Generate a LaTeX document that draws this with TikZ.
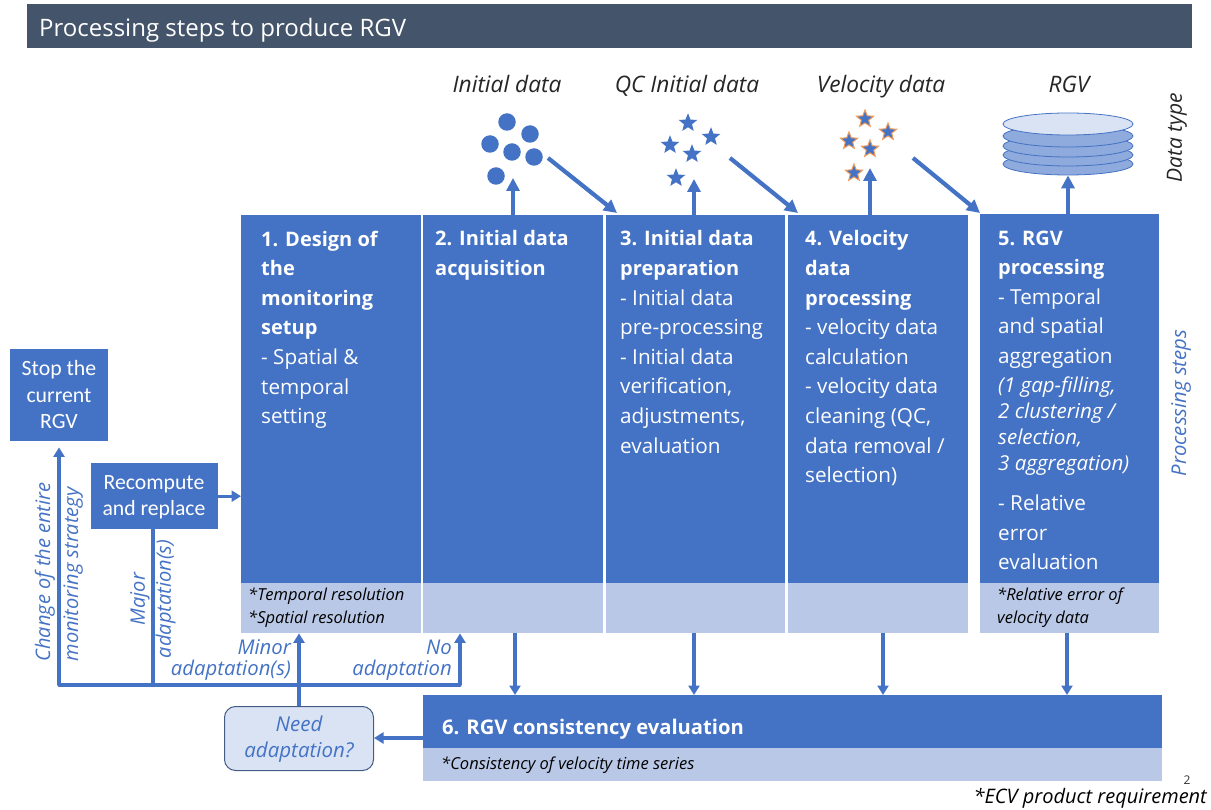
\documentclass[tikz,border=0pt]{standalone}
\usepackage{fontspec}
\setmainfont{Open Sans}
\newfontfamily\calfont{Carlito}
\usetikzlibrary{shapes.geometric,arrows.meta}
\definecolor{bl}{HTML}{4472C4}
\definecolor{lt}{HTML}{B9C8E6}
\definecolor{hd}{HTML}{44546A}
\definecolor{pale}{HTML}{DAE3F3}
\definecolor{disc}{HTML}{8FAADC}
\definecolor{org}{HTML}{ED9C5C}
\newcommand{\bb}[1]{{\fontsize{20}{29.6}\selectfont\bfseries #1}}
\tikzset{
 x=1pt,y=-1pt,
 stepbox/.style={fill=bl,draw=none,anchor=north west,inner sep=0pt},
 lightbox/.style={fill=lt,draw=none,anchor=north west,inner sep=0pt},
 body/.style={text=white,anchor=north west,inner sep=0pt,align=left,font=\fontsize{20.7}{29.6}\selectfont},
 ital/.style={text=white,anchor=north west,inner sep=0pt,align=left,font=\fontsize{20.5}{25.8}\selectfont\itshape},
 req/.style={text=black,anchor=north west,inner sep=0pt,align=left,font=\fontsize{16.5}{22.5}\selectfont\itshape},
 dtype/.style={text=black!85,inner sep=0pt,anchor=base,font=\fontsize{22.7}{26}\selectfont\itshape},
 blab/.style={text=bl,inner sep=0pt,font=\fontsize{20.3}{21.5}\selectfont\itshape},
 ball/.style={circle,fill=bl,minimum size=17.5pt,inner sep=0pt},
 st/.style={star,star points=5,star point ratio=2.3,fill=bl,minimum size=19.5pt,inner sep=0pt},
 vst/.style={st,draw=org,line width=1pt,minimum size=18pt},
 dsk/.style={ellipse,draw=bl,line width=.8pt,fill=disc,minimum width=130pt,minimum height=22pt,inner sep=0pt},
 fat/.style={draw=bl,line width=4.2pt,-{Triangle[length=13pt,width=13pt]}},
 thinarrow/.style={draw=bl,line width=3.2pt,-{Triangle[length=9.5pt,width=11pt]}},
 plain/.style={draw=bl,line width=3.2pt,line cap=round},
}
\begin{document}
\begin{tikzpicture}
\useasboundingbox (0,0) rectangle (1211,810);
\fill[white] (0,0) rectangle (1211,810);
% header
\node[fill=hd,anchor=north west,minimum width=1165pt,minimum height=44pt,inner sep=0pt] (head) at (27,4) {};
\node[anchor=west,inner sep=0pt,text=white,font=\fontsize{24}{28}\selectfont] (headt) at (39,30) {Processing steps to produce RGV};
% data type labels
\node[dtype] (d1) at (507,93) {Initial data};
\node[dtype] (d2) at (687,93) {QC Initial data};
\node[dtype] (d3) at (881,93) {Velocity data};
\node[dtype] (d4) at (1069,93) {RGV};
\node[dtype,rotate=90,anchor=center,font=\fontsize{21}{24}\selectfont\itshape] (dt) at (1177,138) {Data type};
\node[blab,rotate=90] (ps) at (1181,403) {Processing steps};
% boxes
\foreach \n/\xx/\w in {b1/241/180,b2/423/180,b3/606/179,b4/788/180}{
 \node[stepbox,minimum width=\w pt,minimum height=368pt] (\n) at (\xx,215) {};
 \node[lightbox,minimum width=\w pt,minimum height=50pt] (l\n) at (\xx,583) {};
}
\node[stepbox,minimum width=179pt,minimum height=369pt] (b5) at (980,214) {};
\node[lightbox,minimum width=179pt,minimum height=50pt] (lb5) at (980,583) {};
\node[stepbox,minimum width=739pt,minimum height=53pt] (b6) at (423,695) {};
\node[lightbox,minimum width=739pt,minimum height=33pt] (lb6) at (423,748) {};
\node[stepbox,minimum width=98pt,minimum height=92pt] (stop) at (10,349) {};
\node[stepbox,minimum width=127pt,minimum height=66pt] (rec) at (91,463) {};
\node[draw=hd!70!bl,line width=1pt,fill=pale,rounded corners=11pt,anchor=north west,minimum width=149pt,minimum height=64pt,inner sep=0pt] (need) at (224,706) {};
% texts
\node[body] (t1) at (261,230.5) {\bb{1. Design of}\\\bb{the}\\\bb{monitoring}\\\bb{setup}\\- Spatial \&\\temporal\\setting};
\node[body] (t2) at (435,230.5) {\bb{2. Initial data}\\\bb{acquisition}};
\node[body] (t3) at (620,230.5) {\bb{3. Initial data}\\\bb{preparation}\\- Initial data\\pre-processing\\- Initial data\\verification,\\adjustments,\\evaluation};
\node[body] (t4) at (805,230.5) {\bb{4. Velocity}\\\bb{data}\\\bb{processing}\\- velocity data\\calculation\\- velocity data\\cleaning (QC,\\data removal /\\selection)};
\node[body] (t5) at (998,230.5) {\bb{5. RGV}\\\bb{processing}\\- Temporal\\and spatial\\aggregation};
\node[ital] (t5b) at (998,377) {(1 gap-filling,\\2 clustering /\\selection,\\3 aggregation)};
\node[body] (t5c) at (998,494.5) {- Relative\\error\\evaluation};
\node[body,font=\fontsize{20.2}{24}\selectfont\bfseries,anchor=west] (t6) at (442,729) {6. RGV consistency evaluation};
\node[req] (r1) at (248,588) {*Temporal resolution\\*Spatial resolution};
\node[req] (r5) at (997,588) {*Relative error of\\velocity data};
\node[req,anchor=west] (r6) at (441,765) {*Consistency of velocity time series};
\node[text=white,inner sep=0pt,align=center,font=\calfont\fontsize{21.8}{26.5}\selectfont] (stopt) at (59,395) {Stop the\\current\\RGV};
\node[text=white,inner sep=0pt,align=center,font=\calfont\fontsize{21.7}{26}\selectfont] (rect) at (154,497) {Recompute\\and replace};
\node[blab,align=center,font=\fontsize{20.5}{26.5}\selectfont\itshape] (needt) at (299,739) {Need\\adaptation?};
\node[blab,rotate=90,align=left,font=\fontsize{20}{28}\selectfont\itshape] (ch) at (59,572) {Change of the entire\\monitoring strategy};
\node[blab,rotate=90,align=center,font=\fontsize{20}{26}\selectfont\itshape] (maj) at (153,599) {Major\\adaptation(s)};
\node[blab,align=right,anchor=east] (mn) at (291,660) {Minor\\adaptation(s)};
\node[blab,align=right,anchor=east] (no) at (452,660) {No\\adaptation};
\node[inner sep=0pt,font=\fontsize{12}{14}\selectfont,text=black!80] (pg) at (1187,780) {2};
\node[inner sep=0pt,anchor=east,font=\fontsize{20}{22}\selectfont\itshape,text=black] (ecv) at (1207,798) {*ECV product requirement};
% data glyphs
\node[ball] (c1) at (507,122) {};
\node[ball] (c2) at (530,134) {};
\node[ball] (c3) at (490,144) {};
\node[ball] (c4) at (512,152) {};
\node[ball] (c5) at (534,157) {};
\node[ball] (c6) at (496,176) {};
\node[st] (s1) at (688,123) {};
\node[st] (s2) at (711,137) {};
\node[st] (s3) at (670,145) {};
\node[st] (s4) at (692,154) {};
\node[st] (s5) at (676,178) {};
\node[vst] (v1) at (865,119) {};
\node[vst] (v2) at (888,132) {};
\node[vst] (v3) at (849,141) {};
\node[vst] (v4) at (870,149) {};
\node[vst] (v5) at (854,173) {};
\node[dsk] (e1) at (1068,164) {};
\node[dsk] (e2) at (1068,155) {};
\node[dsk] (e3) at (1068,146) {};
\node[dsk] (e4) at (1068,136) {};
\node[dsk,fill=pale] (e5) at (1068,124) {};
% connectors
\coordinate (u1) at (513,178);
\coordinate (u2) at (694,179);
\coordinate (u3) at (870,168);
\coordinate (f1) at (548,158);
\coordinate (g1) at (617,213);
\coordinate (f2) at (730,158);
\coordinate (g2) at (798,213);
\coordinate (f3) at (913,158);
\coordinate (g3) at (980,213);
\draw[fat] (b2.north -| u1) -- (u1);
\draw[fat] (b3.north -| u2) -- (u2);
\draw[fat] (b4.north -| u3) -- (u3);
\draw[fat] (b5.north -| e1) -- (e1.south);
\draw[fat] (f1) -- (g1);
\draw[fat] (f2) -- (g2);
\draw[fat] (f3) -- (g3);
\coordinate (x2) at (515,633);
\coordinate (x3) at (694,633);
\coordinate (x4) at (883,633);
\coordinate (x5) at (1067,633);
\draw[thinarrow] (x2) -- (x2 |- b6.north);
\draw[thinarrow] (x3) -- (x3 |- b6.north);
\draw[thinarrow] (x4) -- (x4 |- b6.north);
\draw[thinarrow] (x5) -- (x5 |- b6.north);
\coordinate (cA) at (59,685);
\coordinate (cB) at (153,685);
\coordinate (cC) at (299,685);
\coordinate (cD) at (460,685);
\coordinate (stopin) at ([yshift=-6pt]stop.south -| cA);
\draw[plain] (cA) -- (cD);
\draw[thinarrow] (cA) -- (stopin);
\draw[thinarrow] (cD) -- (cD |- lb2.south);
\draw[plain] (rec.south -| cB) -- (cB);
\draw[thinarrow] (need.north -| cC) -- (cC |- lb1.south);
\coordinate (r) at (rec.east);
\draw[thinarrow] (rec.east) -- (r -| b1.west);
\coordinate (n) at (373,738);
\draw[thinarrow] (b6.west |- n) -- (need.east |- n);
\end{tikzpicture}
\end{document}
